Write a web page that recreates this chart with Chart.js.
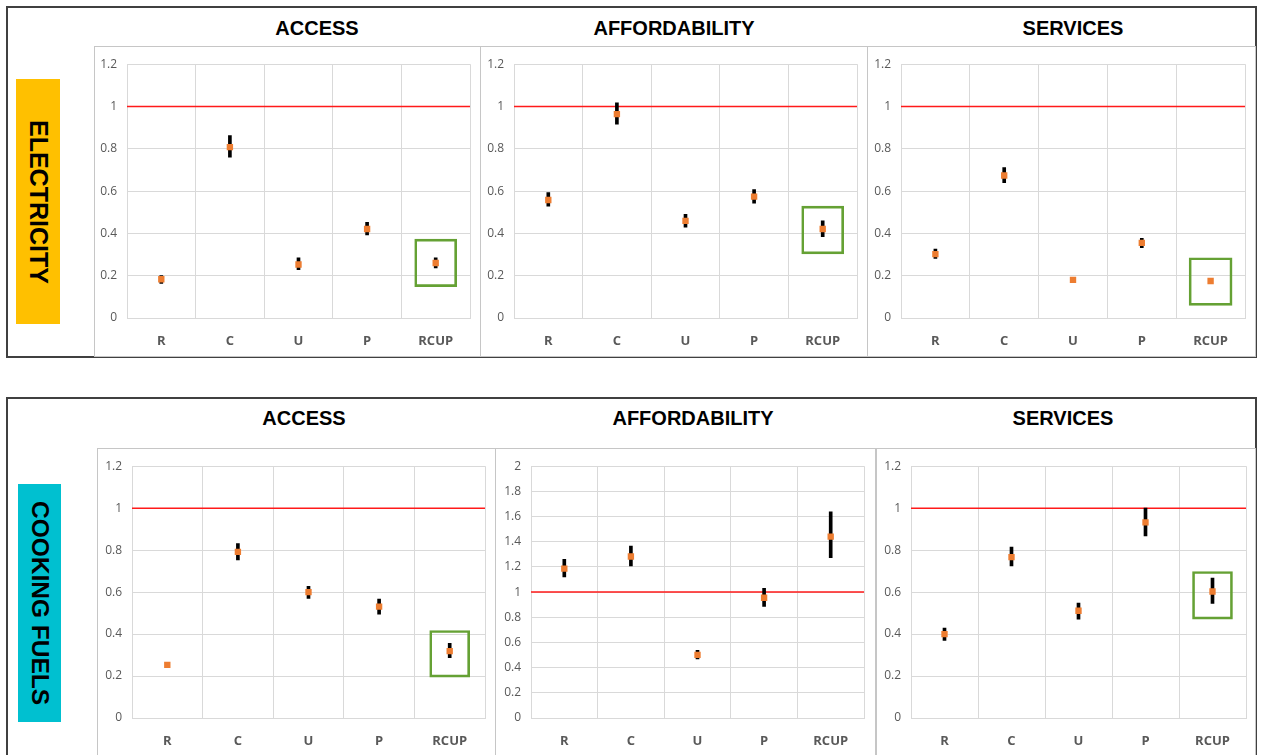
<!DOCTYPE html>
<html>
<head>
<meta charset="utf-8">
<script src="https://cdn.jsdelivr.net/npm/chart.js@4.4.1/dist/chart.umd.min.js"></script>
<style>
  html, body { margin: 0; padding: 0; background: #fff; }
  #page { position: relative; width: 1261px; height: 755px; overflow: hidden; background: #fff; }
  .frame { position: absolute; border: 2px solid #404040; box-sizing: border-box; }
  .box { position: absolute; border: 1px solid #c6c6c6; box-sizing: border-box; }
  .box canvas { position: absolute; left: 0; top: 0; }
  .title { position: absolute; font: bold 20px "Liberation Sans", Arial, sans-serif; color: #000;
           transform: translate(-50%, -50%); white-space: nowrap; }
  .rowLabel { position: absolute; display: flex; align-items: center; justify-content: center; }
  .rowLabel span { writing-mode: vertical-rl; font: bold 25px "Liberation Sans", Arial, sans-serif; color: #000; }
</style>
</head>
<body>
<div id="page">
  <div class="frame" style="left:6px;top:6px;width:1251px;height:352px;"></div>
  <div class="frame" style="left:6px;top:397px;width:1251px;height:380px;"></div>

  <div class="rowLabel" style="left:16px;top:79px;width:44px;height:245px;background:#FFC000;"><span>ELECTRICITY</span></div>
  <div class="rowLabel" style="left:18px;top:484px;width:43px;height:238px;background:#00C0D0;"><span style="font-size:24.5px">COOKING FUELS</span></div>
</div>
<script>
Chart.defaults.font.family = "'Open Sans', sans-serif";

const categories = ["R", "C", "U", "P", "RCUP"];
const panelTitles = ["ACCESS", "AFFORDABILITY", "SERVICES"];

// electricity
const elecAccess = [0.183, 0.808, 0.253, 0.421, 0.26];
const elecAccessLow = [0.164, 0.76, 0.229, 0.393, 0.237];
const elecAccessHigh = [0.201, 0.863, 0.284, 0.452, 0.285];
const elecAccessBox = [0.148, 0.373];

const elecAfford = [0.558, 0.964, 0.459, 0.574, 0.421];
const elecAffordLow = [0.529, 0.916, 0.429, 0.543, 0.385];
const elecAffordHigh = [0.593, 1.017, 0.49, 0.607, 0.46];
const elecAffordBox = [0.303, 0.529];

const elecServices = [0.302, 0.674, 0.18, 0.355, 0.175];
const elecServicesLow = [0.282, 0.64, null, 0.333, null];
const elecServicesHigh = [0.326, 0.711, null, 0.377, null];
const elecServicesBox = [0.06, 0.285];

// cooking fuels
const cookAccess = [0.253, 0.792, 0.6, 0.531, 0.319];
const cookAccessLow = [null, 0.753, 0.57, 0.495, 0.288];
const cookAccessHigh = [null, 0.831, 0.628, 0.567, 0.356];
const cookAccessBox = [0.195, 0.417];

const cookAfford = [1.186, 1.283, 0.501, 0.955, 1.441];
const cookAffordLow = [1.121, 1.207, 0.47, 0.887, 1.273];
const cookAffordHigh = [1.26, 1.365, 0.538, 1.029, 1.638];
const cookAffordBox = null;

const cookServices = [0.4, 0.767, 0.511, 0.932, 0.603];
const cookServicesLow = [0.37, 0.725, 0.471, 0.868, 0.546];
const cookServicesHigh = [0.429, 0.814, 0.548, 1.0, 0.667];
const cookServicesBox = [0.471, 0.698];

const parityLine = 1;
const yMaxElec = 1.2;
const yMaxCookAfford = 2;

const panels = [
  { title: 0, tx: 317, ty: 28, left: 94, top: 46, w: 387, h: 311, yWidth: 32, xHeight: 38, padTop: 14, padRight: 10,
    yMax: yMaxElec, values: elecAccess, low: elecAccessLow, high: elecAccessHigh, box: elecAccessBox, boxWidth: 42 },
  { title: 1, tx: 674, ty: 28, left: 480, top: 46, w: 388, h: 311, yWidth: 33, xHeight: 38, padTop: 14, padRight: 10,
    yMax: yMaxElec, values: elecAfford, low: elecAffordLow, high: elecAffordHigh, box: elecAffordBox, boxWidth: 42 },
  { title: 2, tx: 1073, ty: 28, left: 867, top: 46, w: 389, h: 311, yWidth: 33, xHeight: 38, padTop: 14, padRight: 10,
    yMax: yMaxElec, values: elecServices, low: elecServicesLow, high: elecServicesHigh, box: elecServicesBox, boxWidth: 43 },
  { title: 0, tx: 304, ty: 418, left: 97, top: 448, w: 399, h: 310, yWidth: 34, xHeight: 37, padTop: 14, padRight: 10,
    yMax: yMaxElec, values: cookAccess, low: cookAccessLow, high: cookAccessHigh, box: cookAccessBox, boxWidth: 40 },
  { title: 1, tx: 693, ty: 418, left: 495, top: 448, w: 382, h: 310, yWidth: 35, xHeight: 37, padTop: 14, padRight: 12,
    yMax: yMaxCookAfford, values: cookAfford, low: cookAffordLow, high: cookAffordHigh, box: cookAffordBox, boxWidth: 40 },
  { title: 2, tx: 1063, ty: 418, left: 875, top: 448, w: 381, h: 310, yWidth: 35, xHeight: 37, padTop: 14, padRight: 9,
    yMax: yMaxElec, values: cookServices, low: cookServicesLow, high: cookServicesHigh, box: cookServicesBox, boxWidth: 40 },
];

const page = document.getElementById("page");

function drawPanel(p) {
  const title = document.createElement("div");
  title.className = "title";
  title.style.left = p.tx + "px";
  title.style.top = p.ty + "px";
  title.textContent = panelTitles[p.title];
  page.appendChild(title);

  const box = document.createElement("div");
  box.className = "box";
  box.style.left = p.left + "px";
  box.style.top = p.top + "px";
  box.style.width = p.w + "px";
  box.style.height = p.h + "px";
  const canvas = document.createElement("canvas");
  canvas.width = p.w - 2;
  canvas.height = Math.min(p.h - 2, 755 - p.top - 1);
  box.appendChild(canvas);
  page.appendChild(box);

  const errorBars = p.low.map((lo, i) => (lo === null ? null : [lo, p.high[i]]));
  const boxData = categories.map((c, i) => (p.box && i === categories.length - 1 ? p.box : null));

  new Chart(canvas, {
    type: "bar",
    data: {
      labels: categories,
      datasets: [
        {
          type: "line",
          data: p.values,
          showLine: false,
          pointStyle: "rect",
          pointRadius: 4.5,
          pointBackgroundColor: "#ED7D31",
          pointBorderWidth: 0,
          order: 0,
        },
        {
          data: errorBars,
          backgroundColor: "#000",
          barThickness: 3,
          grouped: false,
          order: 1,
        },
        {
          data: boxData,
          backgroundColor: "rgba(0,0,0,0)",
          borderColor: "#65A134",
          borderWidth: 2,
          borderSkipped: false,
          barThickness: p.boxWidth,
          grouped: false,
          order: 2,
        },
        {
          type: "line",
          xAxisID: "x2",
          data: [{ x: 0, y: parityLine }, { x: 1, y: parityLine }],
          borderColor: "#FF1A1A",
          borderWidth: 1.5,
          pointRadius: 0,
          order: 3,
        },
      ],
    },
    options: {
      responsive: false,
      animation: false,
      events: [],
      layout: { padding: { top: p.padTop, right: p.padRight, left: 0, bottom: 0 } },
      plugins: { legend: { display: false }, tooltip: { enabled: false } },
      scales: {
        x: {
          type: "category",
          offset: true,
          grid: { offset: true, color: "#d9d9d9", drawTicks: false },
          border: { color: "#d9d9d9" },
          ticks: { color: "#595959", font: { size: 13, weight: "bold" }, padding: 15 },
          afterFit: (scale) => { scale.height = p.xHeight; },
        },
        x2: { type: "linear", min: 0, max: 1, display: false, offset: false, grid: { offset: false } },
        y: {
          min: 0,
          max: p.yMax,
          ticks: {
            stepSize: 0.2, color: "#595959", font: { size: 12 }, padding: 10,
            callback: (v) => String(+v.toFixed(2)),
          },
          grid: { color: "#d9d9d9", drawTicks: false },
          border: { color: "#d9d9d9" },
          afterFit: (scale) => { scale.width = p.yWidth; },
        },
      },
    },
  });
}

panels.forEach(drawPanel);
</script>
</body>
</html>
